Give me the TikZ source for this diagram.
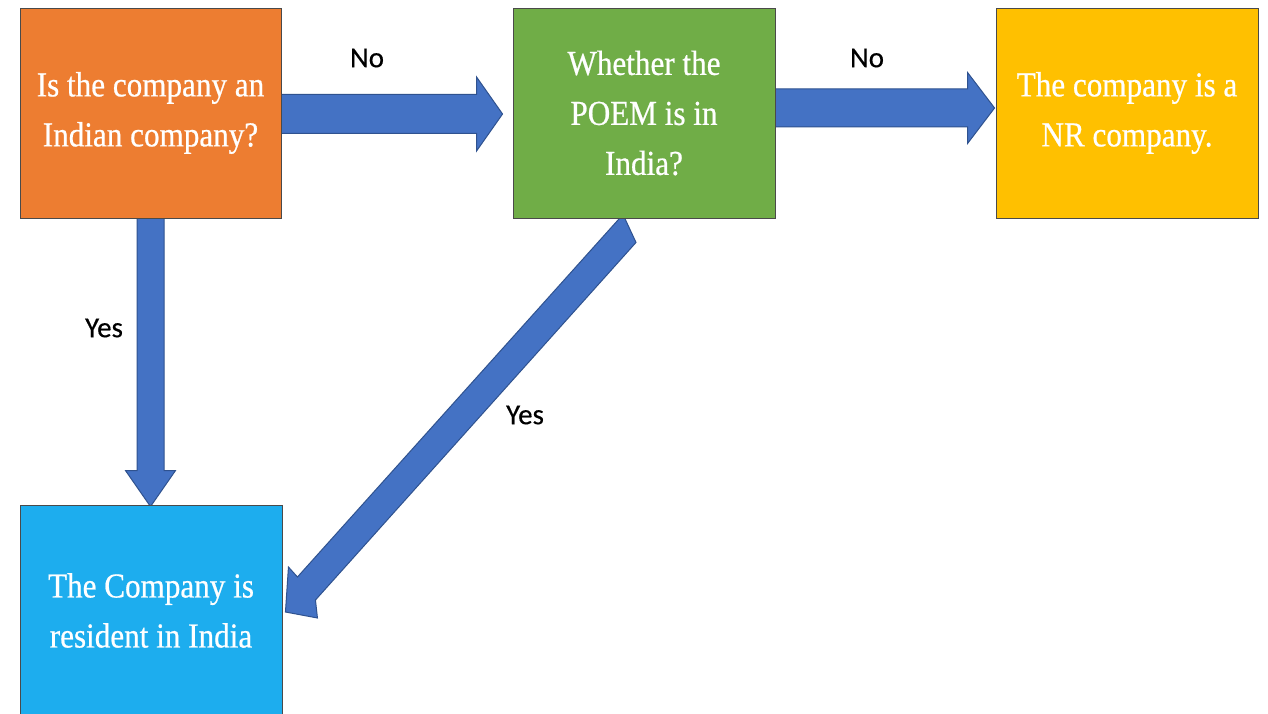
\documentclass[tikz,border=0pt]{standalone}
\usepackage{fontspec}
\newfontfamily\boxfont[FakeStretch=0.89,FakeBold=0.6]{Liberation Serif}
\newfontfamily\labelfont[FakeBold=0.4]{Carlito}
\usetikzlibrary{calc,backgrounds}

\definecolor{qorange}{HTML}{ED7D31}
\definecolor{qgreen}{HTML}{70AD47}
\definecolor{ryellow}{HTML}{FFC000}
\definecolor{rblue}{HTML}{1DADEE}
\definecolor{arrowfill}{HTML}{4472C4}
\definecolor{arrowline}{HTML}{2F528F}
\definecolor{boxline}{HTML}{4A4A4A}

% block arrow from #1 to #2: shaft half-width #3, head half-width #4, head length #5
\newcommand\blockarrow[5]{%
  \coordinate (ba-base) at ($(#2)!#5!(#1)$);
  \filldraw[fat]
    ($(#1)!#3!90:(#2)$) -- ($(ba-base)!#3!90:(#2)$) -- ($(ba-base)!#4!90:(#2)$)
    -- (#2)
    -- ($(ba-base)!#4!-90:(#2)$) -- ($(ba-base)!#3!-90:(#2)$) -- ($(#1)!#3!-90:(#2)$)
    -- cycle;}

\tikzset{
  box/.style={draw=boxline, line width=0.9pt, minimum width=261pt, minimum height=210pt,
    inner sep=0pt, text=white, align=center, font=\boxfont\fontsize{35}{50}\selectfont},
  fat/.style={fill=arrowfill, draw=arrowline, line width=1pt, line join=miter},
  lbl/.style={font=\labelfont\fontsize{29}{34}\selectfont, text=black, inner sep=0pt}
}

\begin{document}
\begin{tikzpicture}[x=1pt, y=-1pt]
\useasboundingbox (0,0) rectangle (1268,714);

% decision and outcome boxes
\node[box, fill=qorange] (q1) at (150.5,113) {Is the company an\\Indian company?};
\node[box, fill=qgreen, minimum width=262pt] (q2) at (644,113) {Whether the\\POEM is in\\India?};
\node[box, fill=ryellow, minimum width=262pt] (r1) at (1127,113) {The company is a\\NR company.};
\node[box, fill=rblue, minimum width=262pt, minimum height=211pt] (r2) at (151,610.5) {The Company is\\resident in India};

% block arrows, kept behind the boxes
\begin{scope}[on background layer]
  \fill[white] (0,0) rectangle (1268,714);
  \coordinate (a1s) at ($(q1.east)+(-2,1)$);
  \coordinate (a1e) at ($(q2.west)+(-10,1)$);
  \blockarrow{a1s}{a1e}{19.5pt}{37pt}{26pt}
  \coordinate (a2s) at ($(q2.east)+(-5,-5)$);
  \coordinate (a2e) at ($(r1.west)+(-1,-5)$);
  \blockarrow{a2s}{a2e}{19pt}{35.5pt}{27pt}
  \coordinate (a3s) at ($(q1.south)+(0,-2)$);
  \coordinate (a3e) at ($(q1.south |- r2.north)+(0,2)$);
  \blockarrow{a3s}{a3e}{13.5pt}{25pt}{36pt}
  % slanted arrow from the POEM box down to the resident box
  \coordinate (a4tl) at ($(q2.south)+(-21,-4)$);
  \coordinate (a4tr) at ($(q2.south)+(-8,24)$);
  \coordinate (a4tip) at ($(r2.east)+(3,1.5)$);
  \filldraw[fat] (a4tl) -- (a4tr) -- ($(r2.east)+(33,-10.5)$) -- ($(r2.east)+(35,7.5)$)
    -- (a4tip) -- ($(r2.east)+(6,-43.5)$) -- ($(r2.east)+(15,-33.5)$) -- cycle;
\end{scope}

% branch labels
\node[lbl] (l1) at (367,58) {No};
\node[lbl] (l2) at (867,58) {No};
\node[lbl] (l3) at (104,328) {Yes};
\node[lbl] (l4) at (525,415) {Yes};
\end{tikzpicture}
\end{document}
